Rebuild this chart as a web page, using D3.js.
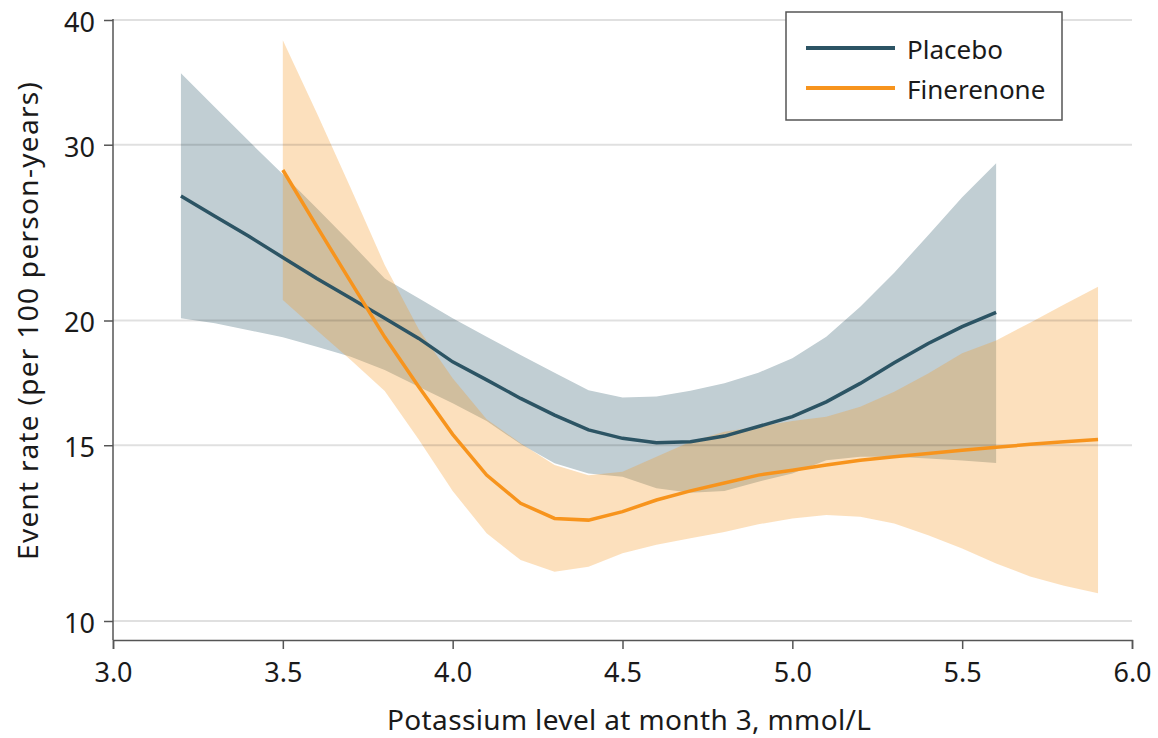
<!DOCTYPE html>
<html>
<head>
<meta charset="utf-8">
<script src="https://cdn.jsdelivr.net/npm/d3@7"></script>
<style>
  html, body { margin: 0; padding: 0; background: #fff; }
  svg text { font-family: "Noto Sans", "Liberation Sans", sans-serif; fill: #1a1a1a; }
</style>
</head>
<body>
<svg id="chart" width="1158" height="738"></svg>
<script>
// Potassium level at month 3 (mmol/L)
const placeboK = [3.2, 3.3, 3.4, 3.5, 3.6, 3.7, 3.8, 3.9, 4.0, 4.1, 4.2, 4.3, 4.4,
                  4.5, 4.6, 4.7, 4.8, 4.9, 5.0, 5.1, 5.2, 5.3, 5.4, 5.5, 5.6];
const fineK    = [3.5, 3.6, 3.7, 3.8, 3.9, 4.0, 4.1, 4.2, 4.3, 4.4, 4.5, 4.6, 4.7,
                  4.8, 4.9, 5.0, 5.1, 5.2, 5.3, 5.4, 5.5, 5.6, 5.7, 5.8, 5.9];

// Event rate per 100 person-years, with 95% CI bounds
const placeboRate  = [26.65, 25.44, 24.29, 23.13, 22.03, 21.05, 20.10, 19.19, 18.18, 17.44, 16.71, 16.08, 15.54,
                      15.24, 15.09, 15.12, 15.32, 15.66, 16.02, 16.58, 17.30, 18.14, 18.97, 19.72, 20.38];
const placeboUpper = [35.37, 32.70, 30.25, 28.02, 25.91, 23.93, 22.03, 21.05, 20.10, 19.26, 18.47, 17.73, 17.03,
                      16.75, 16.78, 17.01, 17.30, 17.73, 18.33, 19.26, 20.64, 22.33, 24.35, 26.58, 28.74];
const placeboLower = [20.10, 19.87, 19.56, 19.24, 18.83, 18.40, 17.84, 17.17, 16.52, 15.86, 15.04, 14.39, 14.05,
                      13.95, 13.58, 13.44, 13.50, 13.79, 14.05, 14.49, 14.61, 14.61, 14.55, 14.48, 14.40];

const fineRate  = [28.30, 24.85, 21.86, 19.25, 17.17, 15.38, 14.00, 13.12, 12.67, 12.62, 12.87, 13.22, 13.50,
                   13.75, 14.00, 14.16, 14.33, 14.49, 14.61, 14.72, 14.83, 14.93, 15.03, 15.12, 15.20];
const fineUpper = [38.18, 32.27, 27.13, 22.73, 19.60, 17.51, 15.93, 15.07, 14.33, 14.00, 14.11, 14.61, 15.12,
                   15.47, 15.66, 15.86, 16.02, 16.39, 16.97, 17.70, 18.54, 19.10, 19.90, 20.75, 21.62];
const fineLower = [20.97, 19.56, 18.26, 17.00, 15.20, 13.50, 12.24, 11.51, 11.20, 11.33, 11.69, 11.92, 12.10,
                   12.28, 12.50, 12.67, 12.77, 12.72, 12.52, 12.19, 11.82, 11.42, 11.08, 10.85, 10.66];

const xTicks = [3.0, 3.5, 4.0, 4.5, 5.0, 5.5, 6.0];
const yTicks = [10, 15, 20, 30, 40];
const seriesNames = ["Placebo", "Finerenone"];

const colors = {
  placeboLine: "#2c5464",
  placeboBand: "#c1ced3",
  fineLine: "#f7941d",
  fineBand: "#f59826"
};

const svg = d3.select("#chart");
const plotLeft = 113, plotRight = 1132, plotTop = 20, axisY = 640;

const x = d3.scaleLinear().domain([3, 6]).range([plotLeft, plotRight]);
const y = d3.scaleLog().domain([10, 40]).range([621, plotTop]);

const zip = (ks, a, b) => ks.map((k, i) => ({ k, v: a[i], w: b ? b[i] : null }));

const area = d3.area()
  .x(d => x(d.k))
  .y0(d => y(d.w))
  .y1(d => y(d.v));
const line = d3.line()
  .x(d => x(d.k))
  .y(d => y(d.v));

// Confidence bands
svg.append("path")
  .datum(zip(placeboK, placeboUpper, placeboLower))
  .attr("d", area)
  .attr("fill", colors.placeboBand);

svg.append("path")
  .datum(zip(fineK, fineUpper, fineLower))
  .attr("d", area)
  .attr("fill", colors.fineBand)
  .attr("fill-opacity", 0.3);

// Horizontal gridlines
svg.append("g")
  .selectAll("line")
  .data(yTicks)
  .join("line")
  .attr("x1", plotLeft).attr("x2", plotRight)
  .attr("y1", d => y(d)).attr("y2", d => y(d))
  .attr("stroke", "rgba(0,0,0,0.12)")
  .attr("stroke-width", 2);

// Fitted rate lines
svg.append("path")
  .datum(zip(placeboK, placeboRate))
  .attr("d", line)
  .attr("fill", "none")
  .attr("stroke", colors.placeboLine)
  .attr("stroke-width", 3.5);

svg.append("path")
  .datum(zip(fineK, fineRate))
  .attr("d", line)
  .attr("fill", "none")
  .attr("stroke", colors.fineLine)
  .attr("stroke-width", 3.5);

// Y axis (log scale)
const yAxis = svg.append("g")
  .attr("transform", `translate(${plotLeft},0)`)
  .call(d3.axisLeft(y).tickValues(yTicks).tickFormat(d3.format("d")).tickSizeOuter(0).tickSize(9).tickPadding(9));
yAxis.select(".domain").remove();
svg.append("line")
  .attr("x1", plotLeft).attr("x2", plotLeft)
  .attr("y1", plotTop - 1).attr("y2", axisY)
  .attr("stroke", "#555").attr("stroke-width", 1.5);

// X axis
const xAxis = svg.append("g")
  .attr("transform", `translate(0,${axisY})`)
  .call(d3.axisBottom(x).tickValues(xTicks).tickFormat(d3.format(".1f")).tickSizeOuter(0).tickSize(9).tickPadding(14));
xAxis.select(".domain").attr("stroke", "#555").attr("stroke-width", 1.5);

[yAxis, xAxis].forEach(g => {
  g.selectAll(".tick line").attr("stroke", "#555").attr("stroke-width", 1.5);
  g.selectAll(".tick text")
    .style("font-family", "'Noto Sans', 'Liberation Sans', sans-serif")
    .style("font-size", "27px")
    .attr("fill", "#1a1a1a");
});
yAxis.selectAll(".tick text").attr("dy", "0.42em");

// Axis titles
svg.append("text")
  .attr("x", 629)
  .attr("y", 730)
  .attr("text-anchor", "middle")
  .attr("textLength", 484)
  .style("font-size", "28px")
  .text("Potassium level at month 3, mmol/L");

svg.append("text")
  .attr("transform", `translate(38,${321}) rotate(-90)`)
  .attr("text-anchor", "middle")
  .attr("textLength", 478)
  .style("font-size", "28px")
  .text("Event rate (per 100 person-years)");

// Legend
const legend = svg.append("g");
legend.append("rect")
  .attr("x", 786).attr("y", 12)
  .attr("width", 276).attr("height", 108)
  .attr("fill", "#fff")
  .attr("stroke", "#555").attr("stroke-width", 1.5);

const legendColors = [colors.placeboLine, colors.fineLine];
seriesNames.forEach((name, i) => {
  const ly = 48 + i * 40;
  legend.append("line")
    .attr("x1", 806).attr("x2", 895)
    .attr("y1", ly).attr("y2", ly)
    .attr("stroke", legendColors[i]).attr("stroke-width", 4);
  legend.append("text")
    .attr("x", 907).attr("y", ly + 11)
    .style("font-size", "26px")
    .text(name);
});
</script>
</body>
</html>
